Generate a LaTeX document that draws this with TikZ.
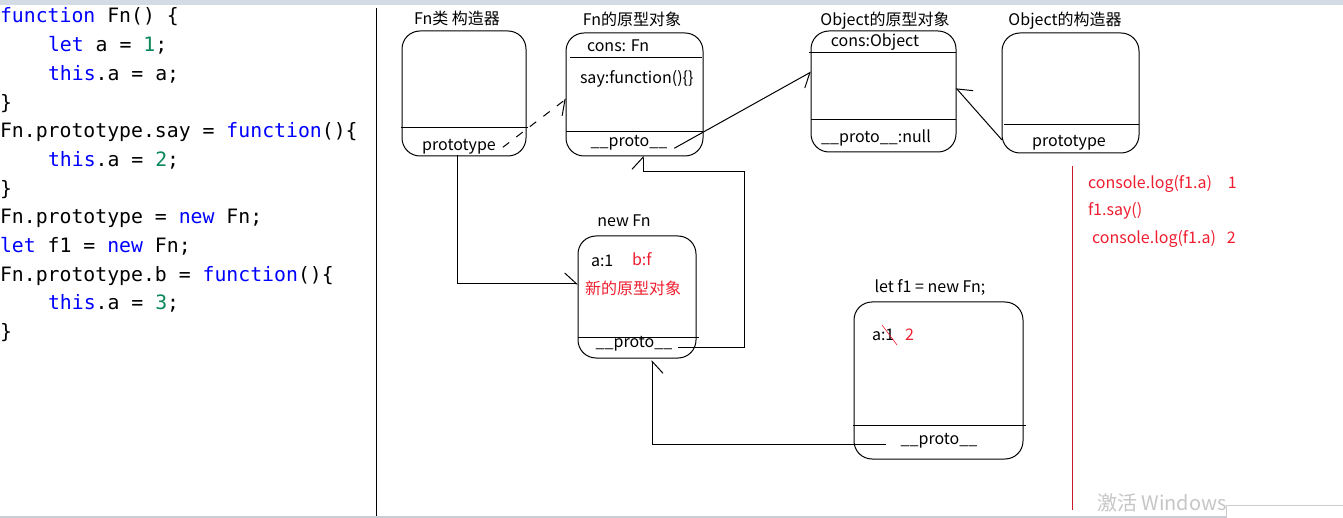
\documentclass[tikz,border=0pt]{standalone}
\usepackage{fontspec}
\setmainfont{Noto Sans CJK SC}
\newfontfamily\codefont{DejaVu Sans Mono}
\usepackage{xcolor}
\usetikzlibrary{arrows.meta}
\usetikzlibrary{positioning}
\definecolor{kwblue}{RGB}{0,0,255}
\definecolor{numgreen}{RGB}{9,136,90}
\definecolor{notered}{RGB}{238,30,48}
\definecolor{barblue}{RGB}{213,219,229}
\newcommand{\jskw}[1]{\textcolor{kwblue}{#1}}
\newcommand{\jsnum}[1]{\textcolor{numgreen}{#1}}
\tikzset{
  every node/.style={inner sep=0pt, outer sep=0pt}
}

\begin{document}
\begin{tikzpicture}[x=1pt, y=-1pt]
  % Define styles for boxes, texts and links
  \tikzset{
    objbox/.style={
      draw,
      rounded corners=18pt,
      line width=1pt
    },
    divider/.style={
      line width=1pt
    },
    lbl/.style={font=\fontsize{16}{19}\selectfont, anchor=base},
    lblw/.style={lbl, anchor=base west},
    note/.style={lblw, text=notered},
    code/.style={font=\codefont\fontsize{19.8}{24}\selectfont, anchor=base west},
    link/.style={
      line width=1pt,
      -{Straight Barb[#1, length=12pt, width=22pt]}
    },
    dashlink/.style={
      link=right,
      dash pattern=on 8pt off 9pt
    }
  }

  \useasboundingbox (0,0) rectangle (1343,518);
  \fill[white] (0,0) rectangle (1343,518);
  \fill[barblue] (0,0) rectangle (1343,5);
  \fill[barblue!85!gray] (0,515.5) rectangle (1343,518);
  \draw[gray!40, fill=white] (1226,505) rectangle (1344,519);

  % Source code on the left
  \foreach \xx/\ll/\txt in {
    0/1/{\jskw{function} Fn() \{},
    48/2/{\jskw{let} a = \jsnum{1};},
    48/3/{\jskw{this}.a = a;},
    0/4/{\}},
    0/5/{Fn.prototype.say = \jskw{function}()\{},
    48/6/{\jskw{this}.a = \jsnum{2};},
    0/7/{\}},
    0/8/{Fn.prototype = \jskw{new} Fn;},
    0/9/{\jskw{let} f1 = \jskw{new} Fn;},
    0/10/{Fn.prototype.b = \jskw{function}()\{},
    48/11/{\jskw{this}.a = \jsnum{3};},
    0/12/{\}}
  }
    \node[code] (code\ll) at (\xx, 23+28.7*\ll-28.7) {\txt};

  \draw[line width=1pt] (376,8) -- (376,516);

  % Boxes for the objects
  \node[objbox, minimum width=124pt, minimum height=125pt] (fnctor) at (464,93.5) {};
  \node[objbox, minimum width=137pt, minimum height=123pt] (fnproto) at (634.5,94.5) {};
  \node[objbox, minimum width=145pt, minimum height=121pt] (objproto) at (883.5,91.5) {};
  \node[objbox, minimum width=137pt, minimum height=120pt] (objctor) at (1070.5,93) {};
  \node[objbox, minimum width=118pt, minimum height=122pt] (newfn) at (637,297) {};
  \node[objbox, minimum width=169pt, minimum height=157pt] (f1obj) at (938.5,380.5) {};

  % Inner lines of the boxes
  \draw[divider] (401,128) -- (528,128);
  \draw[divider] (570,58) -- (702,58);
  \draw[divider] (566,132) -- (703,132);
  \draw[divider] (809,53) -- (956,53);
  \draw[divider] (811,120) -- (956,120);
  \draw[divider] (1004,125) -- (1139,125);
  \draw[divider] (578,338) -- (699,338);
  \draw[divider] (853,425) -- (1026,425);

  % Titles and fields
  \node[lbl] (fnctor-title) at (457,25) {Fn类 构造器};
  \node[lbl] (ctorproto) at (459,151) {prototype};

  \node[lbl] (fnproto-title) at (632,26) {Fn的原型对象};
  \node[lblw] (fp-cons) at (587,52) {cons: Fn};
  \node[lblw] (fp-say) at (580,84) {say:function()\{\}};
  \node[lbl] (fp-proto) at (629,147) {\_\_proto\_\_};

  \node[lbl] (objproto-title) at (885,26) {Object的原型对象};
  \node[lbl] (op-cons) at (875,47) {cons:Object};
  \node[lbl] (op-proto) at (876,143) {\_\_proto\_\_:null};

  \node[lbl] (objctor-title) at (1065,26) {Object的构造器};
  \node[lbl] (oc-proto) at (1069,147) {prototype};

  \node[lbl] (newfn-title) at (624,227) {new Fn};
  \node[lblw] (nf-a) at (591,267) {a:1};
  \node[lblw, text=notered] (nf-b) at (632,266) {b:f};
  \node[lbl, text=notered] (nf-note) at (633,295) {新的原型对象};
  \node[lbl] (nf-proto) at (634,348) {\_\_proto\_\_};

  \node[lbl] (f1-title) at (930,293) {let f1 = new Fn;};
  \node[lblw] (f1-a) at (872,341) {a:1};
  \node[lblw, text=notered] (f1-new) at (905,341) {2};
  \draw[notered, line width=0.6pt] (882,325) -- (897,345);
  \node[lbl] (f1-proto) at (939,444) {\_\_proto\_\_};

  % Links between the objects
  \draw[dashlink] ([xshift=7pt]ctorproto.east) -- ([yshift=-4.5pt]fnproto.west);
  \draw[link=right] ([xshift=7pt,yshift=-5pt]fp-proto.east) -- ([yshift=19.5pt]objproto.west);
  \draw[link=right] ([yshift=-47pt]objctor.west) -- ([yshift=3.5pt]objproto.east);
  \draw[link=left] ([xshift=-2pt]ctorproto.south) |- ([yshift=13pt]newfn.west);
  \coordinate (bendA) at (744,172);
  \draw[link=left] ([xshift=6pt,yshift=-3pt]nf-proto.east) -| (bendA) -| ([xshift=8.5pt]fnproto.south);
  \draw[link=right] ([xshift=-15pt,yshift=-4pt]f1-proto.west) -| ([xshift=15pt,yshift=-2pt]newfn.south);

  % Console output
  \draw[notered!85!black, line width=1pt] (1072,166) -- (1072,510);
  \node[note] (log1) at (1088,189) {console.log(f1.a)\hspace{16pt}1};
  \node[note] (say) at (1088,216) {f1.say()};
  \node[note] (log2) at (1092,244) {console.log(f1.a)\hspace{11pt}2};

  \node[anchor=base west, font=\fontsize{20}{24}\selectfont, text=gray!45] (wm) at (1097,510) {激活 Windows};
\end{tikzpicture}
\end{document}
